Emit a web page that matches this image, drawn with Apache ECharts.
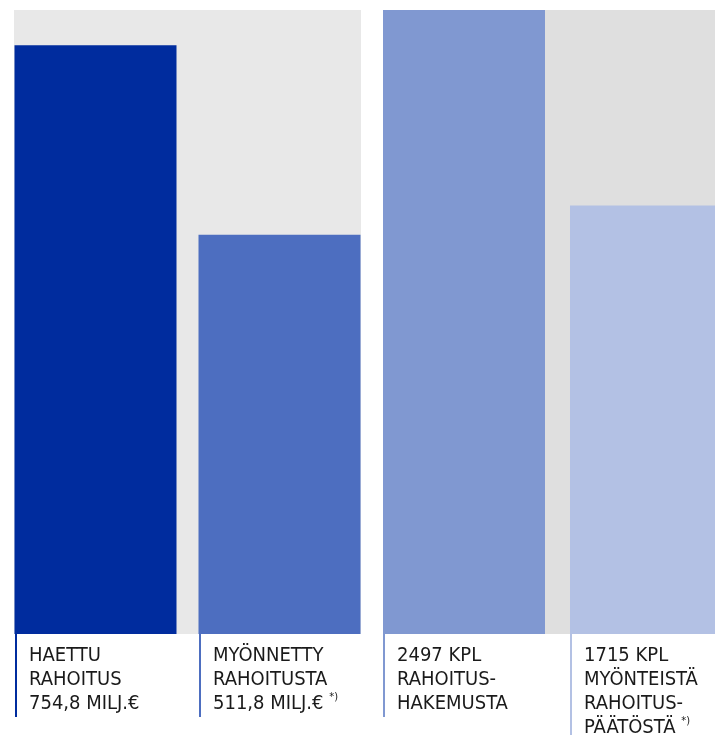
<!DOCTYPE html>
<html><head><meta charset="utf-8">
<script src="https://cdn.jsdelivr.net/npm/echarts@6/dist/echarts.min.js"></script>
<style>html,body{margin:0;padding:0;background:#fff}#c{width:715px;height:735px}</style>
</head><body><div id="c"></div>
<script>
// Left panel: funding (million €)
const fundingCategories = ['Haettu rahoitus', 'Myönnetty rahoitusta'];
const fundingValues = [754.8, 511.8];
const fundingAxisMax = 800;
// Right panel: applications / decisions (pcs)
const decisionCategories = ['Rahoitushakemusta', 'Myönteistä rahoituspäätöstä'];
const decisionValues = [2497, 1715];
const decisionAxisMax = 2497;
// Label texts below the bars
const labelTexts = [
  ['HAETTU', 'RAHOITUS', '754,8 MILJ.€'],
  ['MYÖNNETTY', 'RAHOITUSTA', '511,8 MILJ.€'],
  ['2497 KPL', 'RAHOITUS-', 'HAKEMUSTA'],
  ['1715 KPL', 'MYÖNTEISTÄ', 'RAHOITUS-', 'PÄÄTÖSTÄ']
];
const labelFootnote = [false, true, false, true];

const barColors = ['#002c9e', '#4d6ec0', '#8098d1', '#b3c1e4'];
const FONT = '"Liberation Sans Narrow", "DejaVu Sans Condensed", "Roboto Condensed", sans-serif';

const chart = echarts.init(document.getElementById('c'), null, {renderer: 'canvas'});

const grids = [
  {left: 14, top: 10, width: 347, height: 624, show: true, backgroundColor: '#e8e8e8', borderWidth: 0, outerBoundsMode: 'none', containLabel: false},
  {left: 383, top: 10, width: 349, height: 624, show: true, backgroundColor: '#dfdfdf', borderWidth: 0, outerBoundsMode: 'none', containLabel: false}
];
const hiddenX = (i, name) => ({type: 'category', gridIndex: i, data: [name], show: false, boundaryGap: true});
const hiddenY = (i, max) => ({type: 'value', gridIndex: i, min: 0, max: max, show: false, splitLine: {show: false}});

const series = [];
fundingValues.forEach((v, k) => series.push({
  type: 'bar', xAxisIndex: 0, yAxisIndex: 0, name: fundingCategories[k],
  data: [v], barWidth: 162, barGap: (22 / 162 * 100) + '%',
  itemStyle: {color: barColors[k]}, silent: true
}));
decisionValues.forEach((v, k) => series.push({
  type: 'bar', xAxisIndex: 1, yAxisIndex: 1, name: decisionCategories[k],
  data: [v], barWidth: 162, barGap: (25 / 162 * 100) + '%',
  itemStyle: {color: barColors[k + 2]}, silent: true
}));

// label layout
const lineX = [15, 199, 383, 570];
const lineBottom = [717, 717, 717, 735];
const graphics = [];
labelTexts.forEach((lines, k) => {
  graphics.push({
    type: 'rect', shape: {x: lineX[k], y: 634, width: 2, height: lineBottom[k] - 634},
    style: {fill: barColors[k]}, silent: true
  });
  let txt = lines.join('\n');
  if (labelFootnote[k]) txt += ' {sup|*)}';
  graphics.push({
    type: 'text', left: lineX[k] + 14, top: 644,
    style: {
      text: txt, fill: '#1a1a1a', fontSize: 20, lineHeight: 24, fontFamily: FONT,
      rich: {sup: {fontSize: 11, fontFamily: FONT, fill: '#1a1a1a', verticalAlign: 'top', lineHeight: 14}}
    }, silent: true
  });
});

chart.setOption({
  animation: false,
  grid: grids,
  xAxis: [hiddenX(0, 'rahoitus'), hiddenX(1, 'päätökset')],
  yAxis: [hiddenY(0, fundingAxisMax), hiddenY(1, decisionAxisMax)],
  series: series,
  graphic: graphics
});
</script>
</body></html>
